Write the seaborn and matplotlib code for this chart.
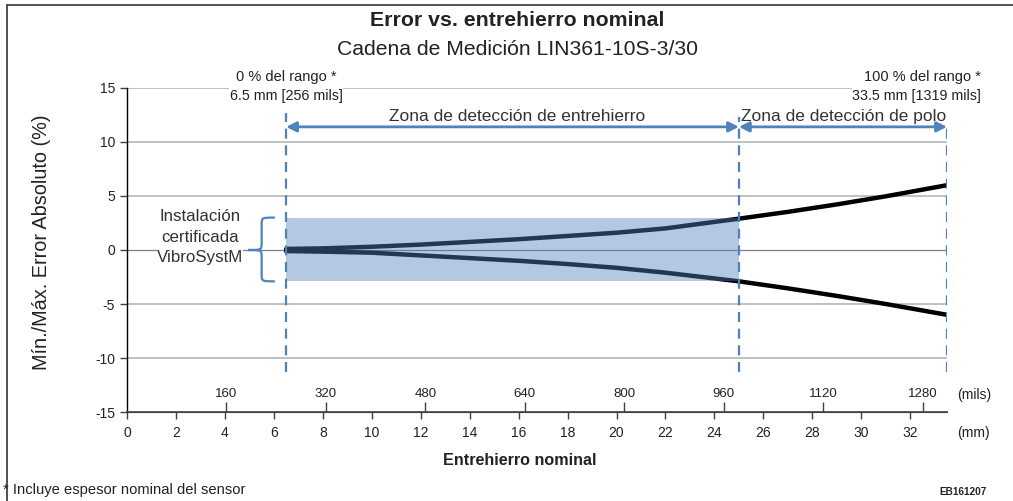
import numpy as np
import pandas as pd
import matplotlib
matplotlib.use("Agg")
import matplotlib.pyplot as plt
import matplotlib.patches as mpatches
from matplotlib.path import Path
import seaborn as sns

# gap (mm) and min/max absolute error (%)
gap_mm = [6.5, 8, 10, 12, 14, 16, 18, 20, 22, 25, 27, 29, 31, 33.5]
err_max = [0.1, 0.15, 0.3, 0.5, 0.75, 1.0, 1.3, 1.6, 2.0, 2.9, 3.53, 4.22, 4.97, 6.0]
err_min = [-0.1, -0.15, -0.25, -0.5, -0.75, -1.0, -1.3, -1.65, -2.1, -2.9, -3.55, -4.25, -5.0, -6.0]

# certified installation band
band_x = [6.5, 25]
band_lo = [-2.9, -2.9]
band_hi = [3.0, 3.0]

# zone limits (mm)
zone_x = [6.5, 25, 33.5]
zone_top = [12.7, 12.3, 11.5]
mm_ticks = list(range(0, 34, 2))
mil_ticks = [160, 320, 480, 640, 800, 960, 1120, 1280]
y_ticks = [-15, -10, -5, 0, 5, 10, 15]

BLUE = "#4F81BD"
TXT = "#222222"

df = pd.DataFrame({
    "gap": gap_mm * 2,
    "err": err_max + err_min,
    "kind": ["max"] * len(gap_mm) + ["min"] * len(gap_mm),
})

sns.set_style("white")
plt.rcParams["font.family"] = ["Liberation Sans", "DejaVu Sans"]
plt.rcParams["axes.unicode_minus"] = False

fig = plt.figure(figsize=(10.13, 5.01), dpi=100)
ax = fig.add_axes([0.1254, 0.1776, 0.8094, 0.6468])

sns.lineplot(data=df, x="gap", y="err", units="kind", estimator=None,
             color="black", lw=3.2, ax=ax, zorder=2, legend=False)
ax.fill_between(band_x, band_lo, band_hi, color=BLUE, alpha=0.43, lw=0, zorder=3)

for xv, yt in zip(zone_x, zone_top):
    ax.plot([xv, xv], [-11.3, yt], color=BLUE, lw=1.6, ls=(0, (4.5, 3)), zorder=4)

ax.set_xlim(0, 33.5)
ax.set_ylim(-15, 15)
ax.set_yticks(y_ticks)
ax.set_xticks(mm_ticks)
for yv in y_ticks[1:]:
    if yv == 0:
        ax.axhline(yv, color="#808080", lw=0.9, zorder=1)
    else:
        ax.axhline(yv, color="#C0C0C0", lw=1.4, zorder=1)

for s in ["top", "right"]:
    ax.spines[s].set_visible(False)
ax.spines["left"].set_color("black")
ax.spines["bottom"].set_color("#404040")
ax.spines["left"].set_linewidth(1.0)
ax.spines["bottom"].set_linewidth(1.2)
ax.tick_params(axis="both", direction="out", length=5, width=1, labelsize=10,
               colors="#404040", labelcolor=TXT, left=True, bottom=True)
ax.tick_params(axis="x", pad=5)
ax.set_xlabel("Entrehierro nominal", fontsize=11.6, fontweight="bold", color=TXT)
ax.xaxis.set_label_coords(0.479, -0.127)
ax.set_ylabel("Mín./Máx. Error Absoluto (%)", fontsize=14.3, color=TXT)
ax.yaxis.set_label_coords(-0.093, 0.525)

# mils scale above the bottom axis
sec = ax.secondary_xaxis(0, functions=(lambda v: v / 0.0254, lambda v: v * 0.0254))
sec.set_alignment("top")
sec.set_xticks(mil_ticks)
sec.tick_params(length=7, width=1, colors="#404040", labelcolor=TXT, labelsize=9.5, pad=2)
sec.spines["top"].set_color("#404040")

ax.text(1.012, 0.052, "(mils)", transform=ax.transAxes, fontsize=10, color=TXT, va="center")
ax.text(1.012, -0.065, "(mm)", transform=ax.transAxes, fontsize=10, color=TXT, va="center")

# zone arrows
arr = dict(arrowstyle="<|-|>", color=BLUE, lw=2, mutation_scale=15, shrinkA=0, shrinkB=0)
ax.annotate("", xy=(zone_x[0], 11.4), xytext=(zone_x[1], 11.4), arrowprops=arr, zorder=5)
ax.annotate("", xy=(zone_x[1], 11.4), xytext=(zone_x[2], 11.4), arrowprops=arr, zorder=5)
ax.text(15.95, 12.4, "Zona de detección de entrehierro", ha="center", va="center",
        fontsize=12.5, color="#333333")
ax.text(25.1, 12.4, "Zona de detección de polo", ha="left", va="center",
        fontsize=12.5, color="#333333")

ax.text(6.5, 16.05, "0 % del rango *", ha="center", va="center", fontsize=10.5,
        color=TXT, clip_on=False)
ax.text(6.5, 14.25, "6.5 mm [256 mils]", ha="center", va="center", fontsize=10.3,
        color=TXT, clip_on=False, bbox=dict(fc="white", ec="none", pad=0.5))
ax.text(34.9, 16.05, "100 % del rango *", ha="right", va="center", fontsize=10.5,
        color=TXT, clip_on=False)
ax.text(34.9, 14.25, "33.5 mm [1319 mils]", ha="right", va="center", fontsize=10.3,
        color=TXT, clip_on=False, bbox=dict(fc="white", ec="none", pad=0.5))

# certified installation brace + label
top, bot = band_hi[0], band_lo[0]
xt, xs, xm = 6.04, 5.5, 4.95
verts = [(xt, top), (xs, top), (xs, top), (xs, top - 0.7),
         (xs, 0.7),
         (xs, 0), (xs, 0), (xm, 0),
         (xs, 0), (xs, 0), (xs, -0.7),
         (xs, bot + 0.7),
         (xs, bot), (xs, bot), (xt, bot)]
codes = [Path.MOVETO, Path.CURVE4, Path.CURVE4, Path.CURVE4,
         Path.LINETO,
         Path.CURVE4, Path.CURVE4, Path.CURVE4,
         Path.CURVE4, Path.CURVE4, Path.CURVE4,
         Path.LINETO,
         Path.CURVE4, Path.CURVE4, Path.CURVE4]
ax.add_patch(mpatches.PathPatch(Path(verts, codes), fc="none", ec=BLUE, lw=1.6,
                                zorder=4, clip_on=False))
ax.text(2.98, 1.2, "Instalación\ncertificada\nVibroSystM", ha="center", va="center",
        fontsize=12.2, color="#333333", linespacing=1.45,
        bbox=dict(fc="white", ec="none", pad=0.3))

# titles and figure notes
fig.text(0.511, 0.96, "Error vs. entrehierro nominal", ha="center", va="center",
         fontsize=15.3, fontweight="bold", color=TXT)
fig.text(0.511, 0.902, "Cadena de Medición LIN361-10S-3/30", ha="center", va="center",
         fontsize=15.2, color=TXT)
fig.text(0.003, 0.022, "* Incluye espesor nominal del sensor", ha="left", va="center",
         fontsize=10.6, color=TXT)
fig.text(0.974, 0.018, "EB161207", ha="right", va="center", fontsize=7.2,
         fontweight="bold", color=TXT)

# frame around the figure
fig.add_artist(plt.Line2D([0.007, 0.007], [0.0, 0.99], color="#333333", lw=1.2))
fig.add_artist(plt.Line2D([0.007, 1.0], [0.99, 0.99], color="#333333", lw=1.2))

fig.savefig("out.png", dpi=100)
